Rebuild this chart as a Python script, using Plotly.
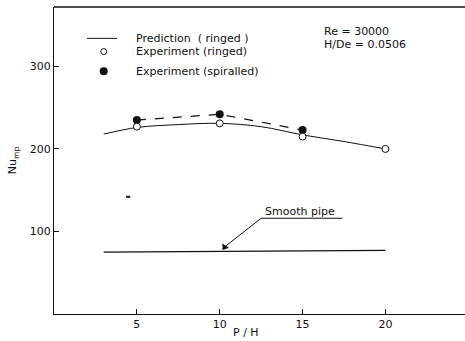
import plotly.graph_objects as go

# Data
pred_x = [3, 5, 7.5, 10, 12.5, 15, 17.5, 20]
pred_y = [218, 226, 229.5, 231, 227, 217, 209, 200]

ringed_x = [5, 10, 15, 20]
ringed_y = [227, 231, 215, 200]

spiral_x = [5, 10, 15]
spiral_y = [235, 242, 223]

smooth_x = [3, 20]
smooth_y = [75, 77]

xticks = [5, 10, 15, 20]
yticks = [100, 200, 300]

ink = "#111111"
fnt = dict(family="DejaVu Sans, Arial", size=11, color=ink)

fig = go.Figure()

fig.add_trace(go.Scatter(x=pred_x, y=pred_y, mode="lines",
                         line=dict(color=ink, width=1, shape="spline"),
                         showlegend=False))
fig.add_trace(go.Scatter(x=spiral_x, y=spiral_y, mode="lines+markers",
                         line=dict(color=ink, width=1.2, dash="dash"),
                         marker=dict(symbol="circle", size=8, color=ink),
                         showlegend=False))
fig.add_trace(go.Scatter(x=ringed_x, y=ringed_y, mode="markers",
                         marker=dict(symbol="circle", size=7, color="white",
                                     line=dict(color=ink, width=1)),
                         showlegend=False))
fig.add_trace(go.Scatter(x=smooth_x, y=smooth_y, mode="lines",
                         line=dict(color=ink, width=1.2), showlegend=False))

# Legend drawn manually (top-left)
fig.add_trace(go.Scatter(x=[2.0, 3.8], y=[334, 334], mode="lines",
                         line=dict(color=ink, width=1), showlegend=False))
fig.add_trace(go.Scatter(x=[3.0], y=[318], mode="markers",
                         marker=dict(symbol="circle", size=6, color="white",
                                     line=dict(color=ink, width=1)),
                         showlegend=False))
fig.add_trace(go.Scatter(x=[3.0], y=[294], mode="markers",
                         marker=dict(symbol="circle", size=8, color=ink),
                         showlegend=False))

legend_texts = [("Prediction  ( ringed )", 334),
                ("Experiment (ringed)", 318),
                ("Experiment (spiralled)", 294)]
for t, yy in legend_texts:
    fig.add_annotation(x=4.8, y=yy, text=t, showarrow=False, xanchor="left",
                       yanchor="middle", font=fnt)

fig.add_annotation(x=16.2, y=342, text="Re = 30000", showarrow=False,
                   xanchor="left", yanchor="middle", font=fnt)
fig.add_annotation(x=16.2, y=327, text="H/De = 0.0506", showarrow=False,
                   xanchor="left", yanchor="middle", font=fnt)

# Smooth pipe label with underline and arrow
fig.add_annotation(x=12.6, y=124, text="Smooth pipe", showarrow=False,
                   xanchor="left", yanchor="middle", font=fnt)
fig.add_shape(type="line", x0=12.5, x1=17.4, y0=116, y1=116,
              line=dict(color=ink, width=1.2))
fig.add_shape(type="line", x0=12.5, x1=10.15, y0=116, y1=79,
              line=dict(color=ink, width=1))
fig.add_trace(go.Scatter(x=[10.3], y=[81], mode="markers",
                         marker=dict(symbol="triangle-up", size=7, color=ink,
                                     angle=212),
                         showlegend=False))

# small speck seen in reference
fig.add_shape(type="line", x0=4.35, x1=4.6, y0=142, y1=142,
              line=dict(color=ink, width=2))

# top border
fig.add_shape(type="line", xref="paper", yref="paper", x0=0, x1=1, y0=1, y1=1,
              line=dict(color=ink, width=1.5))

# x axis title
fig.add_annotation(x=11.6, y=0, yref="y", text="P / H", showarrow=False,
                   xanchor="center", yanchor="top", yshift=-10, font=fnt)

fig.update_xaxes(range=[0, 24.8], tickvals=xticks, ticks="inside", ticklen=5,
                 tickcolor=ink, showline=True, linecolor=ink, linewidth=1.2,
                 showgrid=False, zeroline=False, tickfont=fnt)
fig.update_yaxes(range=[0, 372], tickvals=yticks, ticks="inside", ticklen=5,
                 tickcolor=ink, showline=True, linecolor=ink, linewidth=1.2,
                 showgrid=False, zeroline=False, tickfont=fnt,
                 title=dict(text="Nu<sub>mp</sub>", font=fnt, standoff=10))

fig.update_layout(width=465, height=341, margin=dict(l=54, r=0, t=7, b=27),
                  plot_bgcolor="white", paper_bgcolor="white")

fig.write_html("out.html")
